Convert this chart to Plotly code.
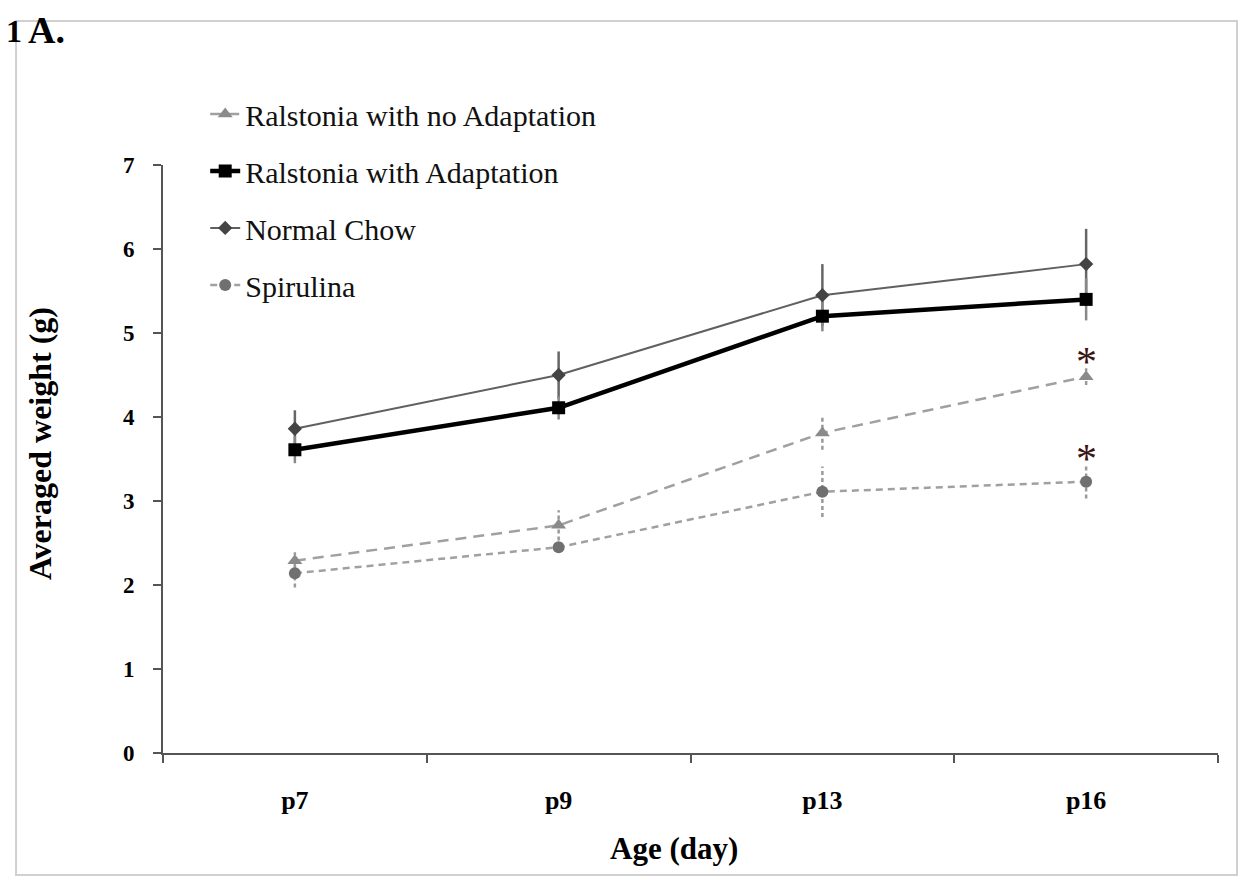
import plotly.graph_objects as go

# Ages (postnatal day) and mean body weight (g) per diet group
ages = ["p7", "p9", "p13", "p16"]

no_adapt = [2.29, 2.71, 3.81, 4.48]
no_adapt_err = [0.10, 0.18, 0.20, 0.10]

with_adapt = [3.61, 4.11, 5.20, 5.40]
with_adapt_err = [0.16, 0.14, 0.18, 0.25]

chow = [3.86, 4.50, 5.45, 5.82]
chow_err = [0.22, 0.28, 0.37, 0.42]

spirulina = [2.14, 2.45, 3.11, 3.23]
spirulina_err = [0.17, 0.05, 0.30, 0.20]

# groups significantly different at p16
sig_marks = ["*", "*"]

SERIF = "Liberation Serif, Times New Roman, serif"

fig = go.Figure()


def err_segments(vals, errs):
    xs, ys = [], []
    for a, v, e in zip(ages, vals, errs):
        xs += [a, a, None]
        ys += [v - e, v + e, None]
    return xs, ys


# error bars drawn as line segments so they can share the series dash style
for vals, errs, color, dash in [
    (no_adapt, no_adapt_err, "#9a9a9a", "4px,3px"),
    (spirulina, spirulina_err, "#9a9a9a", "4px,3px"),
    (chow, chow_err, "#666666", "solid"),
    (with_adapt, with_adapt_err, "#888888", "solid"),
]:
    ex, ey = err_segments(vals, errs)
    fig.add_trace(go.Scatter(x=ex, y=ey, mode="lines", showlegend=False,
                             hoverinfo="skip",
                             line=dict(color=color, width=2.5, dash=dash)))

fig.add_trace(go.Scatter(
    x=ages, y=no_adapt, name="Ralstonia with no Adaptation", legendgroup="a",
    mode="lines+markers",
    line=dict(color="#a0a0a0", width=2.5, dash="11px,7px"),
    marker=dict(symbol="triangle-up", size=13, color="#8a8a8a")))

fig.add_trace(go.Scatter(
    x=ages, y=with_adapt, name="Ralstonia with Adaptation", legendgroup="b",
    mode="lines+markers",
    line=dict(color="#000000", width=4.5),
    marker=dict(symbol="square", size=13, color="#000000")))

fig.add_trace(go.Scatter(
    x=ages, y=chow, name="Normal Chow", legendgroup="c",
    mode="lines+markers",
    line=dict(color="#606060", width=2),
    marker=dict(symbol="diamond", size=11, color="#444444")))

fig.add_trace(go.Scatter(
    x=ages, y=spirulina, name="Spirulina", legendgroup="d",
    mode="lines+markers",
    line=dict(color="#a0a0a0", width=2.5, dash="7px,5px"),
    marker=dict(symbol="circle", size=12, color="#707070")))

# significance asterisks above the p16 points of the two low-weight groups
for mark, v, e in zip(sig_marks, [no_adapt[3], spirulina[3]],
                      [no_adapt_err[3], spirulina_err[3]]):
    fig.add_annotation(x=ages[3], y=v + e, text=mark, showarrow=False,
                       yanchor="bottom", yshift=-19,
                       font=dict(family=SERIF, size=42, color="#3b1414"))

# panel label
fig.add_annotation(xref="paper", yref="paper", x=-0.151, y=1.262,
                   text="<b>1</b>", showarrow=False, xanchor="left",
                   yanchor="top", font=dict(family=SERIF, size=32, color="#000"))
fig.add_annotation(xref="paper", yref="paper", x=-0.130, y=1.268,
                   text="<b>A.</b>", showarrow=False, xanchor="left",
                   yanchor="top", font=dict(family=SERIF, size=38, color="#000"))

# axis titles
fig.add_annotation(xref="paper", yref="paper", x=-0.1166, y=0.527,
                   text="<b>Averaged weight (g)</b>", showarrow=False,
                   textangle=-90, xanchor="center", yanchor="middle",
                   font=dict(family=SERIF, size=32, color="#000"))
fig.add_annotation(xref="paper", yref="paper", x=0.484, y=-0.1616,
                   text="<b>Age (day)</b>", showarrow=False,
                   xanchor="center", yanchor="middle",
                   font=dict(family=SERIF, size=31, color="#000"))

# light frame around the panel
fig.add_shape(type="rect", xref="paper", yref="paper",
              x0=-0.1393, x1=1.0180, y0=-0.2075, y1=1.2449,
              line=dict(color="#d0d0d0", width=2), layer="below")

fig.update_layout(
    width=1239, height=877,
    margin=dict(l=163, r=21, t=165, b=124),
    paper_bgcolor="white", plot_bgcolor="white",
    font=dict(family=SERIF, color="#000"),
    showlegend=True,
    legend=dict(x=0.04, y=1.131, xanchor="left", yanchor="top",
                bgcolor="rgba(0,0,0,0)", tracegroupgap=15,
                font=dict(family=SERIF, size=30, color="#111"),
                itemwidth=30),
    xaxis=dict(
        type="category", categoryorder="array", categoryarray=ages,
        range=[-0.5, 3.5], showgrid=False, zeroline=False,
        showline=True, linecolor="#555", linewidth=2,
        ticks="outside", tickson="boundaries", ticklen=8, tickcolor="#555",
        tickwidth=1.5, ticklabelstandoff=23,
        tickfont=dict(family=SERIF, size=26, color="#000", weight="bold"),
    ),
    yaxis=dict(
        range=[0, 7], dtick=1, showgrid=False, zeroline=False,
        showline=True, linecolor="#555", linewidth=2,
        ticks="outside", ticklen=8, tickcolor="#555", tickwidth=1.5,
        ticklabelstandoff=14,
        tickfont=dict(family=SERIF, size=23, color="#000", weight="bold"),
    ),
)

fig.write_html("out.html")
